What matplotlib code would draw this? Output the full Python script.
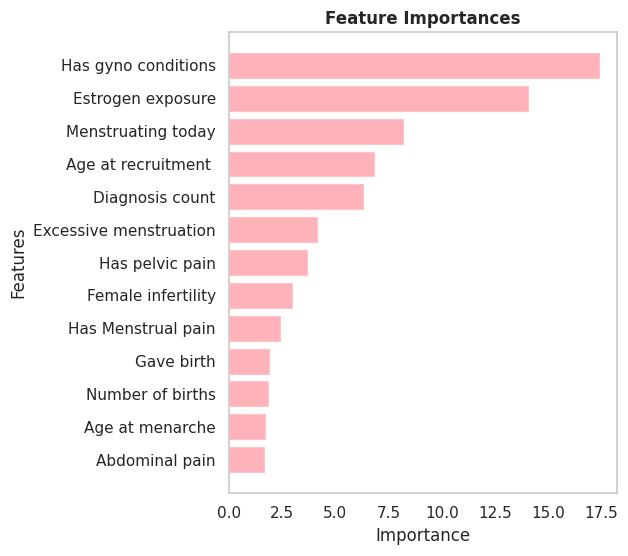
import matplotlib
matplotlib.use('Agg')
import matplotlib.pyplot as plt
import seaborn as sns

features = [
    'Has gyno conditions', 'Estrogen exposure', 'Menstruating today',
    'Age at recruitment ', 'Diagnosis count', 'Excessive menstruation',
    'Has pelvic pain', 'Female infertility', 'Has Menstrual pain',
    'Gave birth', 'Number of births', 'Age at menarche', 'Abdominal pain',
]
importances = [17.37, 14.07, 8.17, 6.80, 6.29, 4.12, 3.69, 2.98, 2.42,
               1.90, 1.85, 1.71, 1.66]

sns.set_theme(style='whitegrid')
plt.rcParams['font.family'] = ['DejaVu Sans']

fig, ax = plt.subplots(figsize=(6.28, 5.56), dpi=100)
fig.subplots_adjust(left=0.3646, right=0.9825, top=0.9424, bottom=0.1133)

ax.barh(features, importances, height=0.76, color='#ffb2b9', edgecolor='#ffc4c9', linewidth=0.8)
ax.invert_yaxis()
ax.grid(False)
ax.set_xlabel('Importance')
ax.set_ylabel('Features')
ax.set_title('Feature Importances', fontweight='bold')

fig.savefig('out.png', facecolor='white')
